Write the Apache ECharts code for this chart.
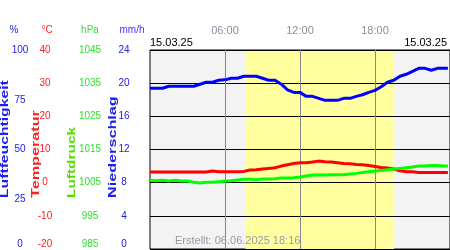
<!DOCTYPE html>
<html><head><meta charset="utf-8">
<script src="https://cdn.jsdelivr.net/npm/echarts@6/dist/echarts.min.js"></script>
<style>html,body{margin:0;padding:0;background:#fff}#c{width:450px;height:250px}</style>
</head><body><div id="c"></div>
<script>
const times = ['00:00','00:30','01:00','01:30','02:00','02:30','03:00','03:30','04:00','04:30','05:00','05:30','06:00','06:30','07:00','07:30','08:00','08:30','09:00','09:30','10:00','10:30','11:00','11:30','12:00','12:30','13:00','13:30','14:00','14:30','15:00','15:30','16:00','16:30','17:00','17:30','18:00','18:30','19:00','19:30','20:00','20:30','21:00','21:30','22:00','22:30','23:00','23:30','23:50'];
const humidity = [80.8,80.8,80.8,81.8,81.8,81.8,81.8,81.8,82.8,83.8,83.8,84.8,85,85.8,85.8,86.8,86.8,86.8,85.8,84.8,84.8,82.8,80,78.7,78.7,76.7,76.7,75.7,74.7,74.7,74.7,75.7,75.7,76.7,77.5,78.7,79.7,81.5,83.8,84.8,86.8,87.8,89.3,90.8,90.8,89.8,90.8,90.8,90.8];
const temperature = [3.2,3.2,3.2,3.2,3.2,3.2,3.2,3.2,3.2,3.2,3.5,3.3,3.3,3.3,3.3,3.4,3.8,3.9,4.1,4.3,4.5,5.0,5.4,5.8,6.0,6.0,6.2,6.5,6.3,6.2,6.0,5.8,5.7,5.5,5.4,5.2,4.9,4.6,4.4,4.1,3.6,3.3,3.3,3.1,3.1,3.1,3.1,3.1,3.1];
const pressure = [1005.7,1005.6,1005.7,1005.5,1005.7,1005.5,1005.5,1005.1,1004.9,1005.1,1005.1,1005.3,1005.5,1005.6,1005.8,1006.0,1006.0,1005.9,1006.1,1006.1,1006.2,1006.4,1006.4,1006.5,1006.7,1007.0,1007.3,1007.3,1007.3,1007.4,1007.4,1007.4,1007.6,1007.8,1008.1,1008.3,1008.5,1008.7,1008.9,1009.1,1009.3,1009.5,1009.7,1010.0,1010.0,1010.2,1010.2,1010.0,1010.0];
const xTickLabels = ['00:00','06:00','12:00','18:00','24:00'];
const humidityTicks = [0,25,50,75,100];
const temperatureTicks = [-20,-10,0,10,20,30,40];
const pressureTicks = [985,995,1005,1015,1025,1035,1045];
const rainTicks = [0,4,8,12,16,20,24];
const units = ['%','°C','hPa','mm/h'];
const sunrise = '07:38', sunset = '19:32';
const dateLabel = '15.03.25';
const createdLabel = 'Erstellt: 06.06.2025 18:16';

const toH = s => { const p = s.split(':'); return +p[0] + (+p[1]) / 60; };
const mk = arr => times.map((t, i) => [toH(t), arr[i]]);
const FONT = 'Liberation Sans, Arial, sans-serif';
const C_HUM = '#2020ee', C_TEMP = '#ff2020', C_PRESS = '#30e030', C_RAIN = '#2020dd';

function yAx(ticks, offset, color, split) {
  const min = ticks[0], max = ticks[ticks.length - 1];
  return {
    type: 'value', position: 'left', offset: offset, z: 1.5,
    min: min, max: max, interval: ticks[1] - ticks[0],
    axisLine: {show: false}, axisTick: {show: false},
    splitLine: {show: split, lineStyle: {color: '#000', width: 1}},
    axisLabel: {
      margin: 0, align: 'center', fontSize: 10, fontFamily: FONT, color: color,
      formatter: v => v === min ? '{lo|' + v + '}' : String(v),
      rich: {lo: {padding: [0, 0, 10, 0], fontSize: 10, fontFamily: FONT, color: color}}
    }
  };
}
function hdr(text, x, color) {
  return {type: 'text', x: x, y: 30, z: 10, style: {text: text, font: '10px ' + FONT, fill: color, textAlign: 'center', textVerticalAlign: 'middle'}};
}
function vtitle(text, x, sc, color) {
  return {type: 'text', x: x, y: 198, rotation: Math.PI / 2, scaleX: sc, style: {text: text, font: 'bold 10px ' + FONT, fill: color, textAlign: 'left', textVerticalAlign: 'middle'}};
}

const chart = echarts.init(document.getElementById('c'), null, {renderer: 'canvas'});
chart.setOption({
  animation: false,
  backgroundColor: '#fff',
  grid: {left: 150, top: 50, width: 302, height: 199, show: true, backgroundColor: '#f3f3f3', borderColor: '#000', borderWidth: 1},
  xAxis: {
    type: 'value', position: 'top', min: 0, max: 24, interval: 6, z: 1.5,
    axisLine: {show: false}, axisTick: {show: false},
    axisLabel: {showMinLabel: false, showMaxLabel: false, margin: 14, fontSize: 11, fontFamily: FONT, color: '#8c8c9c',
      formatter: v => xTickLabels[Math.round(v / 6)]},
    splitLine: {show: true, showMinLine: false, showMaxLine: false, lineStyle: {color: '#888', width: 1}}
  },
  yAxis: [
    yAx(humidityTicks, 130, C_HUM, false),
    yAx(temperatureTicks, 105, C_TEMP, true),
    yAx(pressureTicks, 60, C_PRESS, false),
    yAx(rainTicks, 26, C_RAIN, false)
  ],
  series: [
    {type: 'line', yAxisIndex: 0, data: [], z: 1,
     markArea: {silent: true, itemStyle: {color: '#ffffa0', borderWidth: 0},
       data: [[{xAxis: toH(sunrise)}, {xAxis: toH(sunset)}]]}},
    {type: 'line', name: 'Luftfeuchtigkeit', yAxisIndex: 0, data: mk(humidity), showSymbol: false, symbol: 'none', z: 3,
     lineStyle: {color: '#0000ff', width: 3}},
    {type: 'line', name: 'Temperatur', yAxisIndex: 1, data: mk(temperature), showSymbol: false, symbol: 'none', z: 3,
     lineStyle: {color: '#ff0000', width: 3}},
    {type: 'line', name: 'Luftdruck', yAxisIndex: 2, data: mk(pressure), showSymbol: false, symbol: 'none', z: 3,
     lineStyle: {color: '#00ff00', width: 3}}
  ],
  graphic: [
    hdr(units[0], 14, C_HUM), hdr(units[1], 47, C_TEMP), hdr(units[2], 90, C_PRESS), hdr(units[3], 132, '#4433ff'),
    vtitle('Luftfeuchtigkeit', 5, 1.57, C_HUM),
    vtitle('Temperatur', 36, 1.62, C_TEMP),
    vtitle('Luftdruck', 72, 1.54, '#55dd00'),
    vtitle('Niederschlag', 113, 1.62, C_HUM),
    {type: 'text', x: 150, y: 43, z: 10, style: {text: dateLabel, font: '11px ' + FONT, fill: '#000', textAlign: 'left', textVerticalAlign: 'middle'}},
    {type: 'text', x: 447, y: 43, z: 10, style: {text: dateLabel, font: '11px ' + FONT, fill: '#000', textAlign: 'right', textVerticalAlign: 'middle'}},
    {type: 'text', x: 175, y: 241, z: 10, style: {text: createdLabel, font: '11px ' + FONT, fill: '#9a9aaa', textAlign: 'left', textVerticalAlign: 'middle'}}
  ]
});
</script></body></html>
